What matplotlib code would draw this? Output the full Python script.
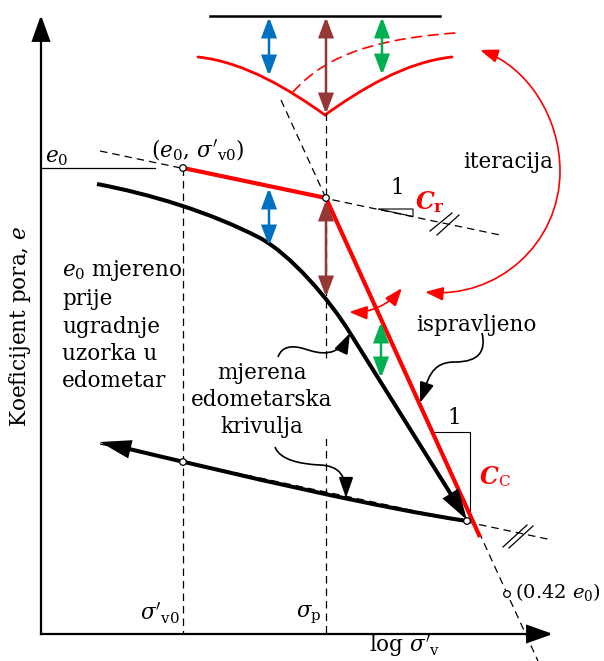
import numpy as np
import matplotlib.pyplot as plt
from matplotlib.patches import FancyArrowPatch, Circle, Polygon
from matplotlib.path import Path

plt.rcParams['font.family'] = 'DejaVu Serif'
plt.rcParams['mathtext.fontset'] = 'dejavuserif'

# everything is laid out on a 604 x 661 canvas (y grows downward)
W, H = 604, 661

# axes frame
origin = (41, 634)
y_axis_top = 15
x_axis_right = 553

# characteristic points of the construction
pt_e0 = (183, 168)      # (e0, sigma'v0)
pt_sp = (326, 198)      # sigma_p on the recompression line
pt_end = (467, 521)     # last loading step
pt_042 = (507, 594)     # 0.42 e0 on the Cc line
open_points = [pt_e0, pt_sp, (183, 462), pt_end, pt_042]

# construction lines
cr_dash = [(100, 151), (500, 235)]
cc_dash = [(281, 100), (538, 661)]
unload_dash = [(100, 444), (552, 540)]
e0_line = [(41, 168), (155, 168)]
vert_x = [183, 326]
vert_top = [168, 113]
corrected = [pt_e0, pt_sp, (480, 537)]

# measured oedometer curve (bezier control points) and unloading branch
measured_pts = [(97, 184), (150, 194), (210, 212), (260, 238),
                (290, 254), (330, 300), (350, 333), (467, 520)]
unload_pts = [(467, 521), (380, 508), (250, 478), (100, 442)]

# disturbance sketch at the top
ref_line = [(210, 16), (440, 16)]
v_left = [(198, 57), (245, 62), (290, 90), (325, 115)]
v_right = [(325, 115), (360, 90), (405, 62), (452, 57)]
v_dashed = [(293, 92), (320, 62), (360, 40), (455, 33)]

# double arrows: (x, y_top, y_bottom, colour)
blue, brown, green, red = '#0070C0', '#953735', '#00B050', '#FF0000'
top_arrows = [(269, 17, 76, blue), (326, 17, 114, brown), (382, 17, 75, green)]
low_arrows = [(269, 188, 246, blue), (326, 200, 297, brown), (381, 322, 378, green)]

# slope triangles
cr_tri = [(378, 209), (413, 209), (413, 216.5)]
cc_tri = [(433, 432), (470, 432), (470, 520)]

fig = plt.figure(figsize=(W / 100, H / 100), dpi=100)
ax = fig.add_axes([0, 0, 1, 1])
ax.set_xlim(0, W)
ax.set_ylim(H, 0)
ax.axis('off')

dash = (0, (6, 4))
fs = 15.5


def bez(pts):
    codes = [Path.MOVETO] + [Path.CURVE4] * (len(pts) - 1)
    return Path(pts, codes)


def arrow(path=None, a=None, b=None, style='-|>', color='black', lw=1.5,
          ms=20, hl=0.8, hw=0.3, cs=None, z=4):
    st = f"{style},head_length={hl},head_width={hw}"
    kw = dict(arrowstyle=st, color=color, lw=lw, mutation_scale=ms,
              zorder=z, joinstyle='miter', capstyle='butt')
    if path is not None:
        p = FancyArrowPatch(path=path, **kw)
    else:
        p = FancyArrowPatch(a, b, shrinkA=0, shrinkB=0,
                            connectionstyle=cs or 'arc3,rad=0', **kw)
    ax.add_patch(p)


# axes with arrow heads
ax.plot([origin[0], origin[0]], [origin[1], y_axis_top + 15], color='black', lw=1.6)
ax.plot([origin[0], x_axis_right - 15], [origin[1], origin[1]], color='black', lw=1.6)
arrow(a=(origin[0], y_axis_top + 20), b=(origin[0], y_axis_top), lw=1.6, ms=18, hl=0.9, hw=0.32)
arrow(a=(x_axis_right - 20, origin[1]), b=(x_axis_right, origin[1]), lw=1.6, ms=18, hl=0.9, hw=0.32)

# construction lines
for seg in (cr_dash, cc_dash, unload_dash):
    (x0, y0), (x1, y1) = seg
    ax.plot([x0, x1], [y0, y1], color='black', lw=0.9, ls=dash, zorder=2)
for x, yt in zip(vert_x, vert_top):
    ax.plot([x, x], [yt, origin[1]], color='black', lw=0.9, ls=dash, zorder=2)
ax.plot(*zip(*e0_line), color='black', lw=0.9)

# hash marks on the dashed lines
for (x0, y0, x1, y1) in [(430, 231, 452, 213), (437, 235, 459, 215),
                         (503, 547, 527, 525), (509, 548, 533, 526)]:
    ax.plot([x0, x1], [y0, y1], color='black', lw=0.9)

# slope triangles
ax.add_patch(Polygon(cr_tri, closed=True, fill=False, ec='black', lw=0.8))
ax.plot(*zip(*cc_tri), color='black', lw=0.8)
ax.text(397, 188, '1', fontsize=fs, ha='center', va='center')
ax.text(454, 418, '1', fontsize=fs, ha='center', va='center')

# corrected curve
ax.plot(*zip(*corrected), color=red, lw=3.0, solid_capstyle='butt', zorder=3)

# measured curve and unloading
mcodes = [Path.MOVETO] + [Path.CURVE4] * 6 + [Path.LINETO]
arrow(path=Path(measured_pts, mcodes), lw=2.9, ms=20, hl=0.8, hw=0.24, z=3)
arrow(path=bez(unload_pts), lw=2.9, ms=20, hl=0.8, hw=0.24, z=3)

# top sketch
ax.plot(*zip(*ref_line), color='black', lw=1.8)
for pts, ls in ((v_left, '-'), (v_right, '-'), (v_dashed, dash)):
    ax.add_patch(FancyArrowPatch(path=bez(pts), arrowstyle='-', color=red,
                                 lw=2.0 if ls == '-' else 1.2, ls=ls))

for x, y0, y1, c in top_arrows + low_arrows:
    arrow(a=(x, y0), b=(x, y1), style='<|-|>', color=c, lw=1.8, ms=15,
          hl=0.8, hw=0.3)

# iteration arcs
arc = [(480, 50), (529, 67), (560, 119), (560, 171),
       (560, 244), (497, 299), (425, 292)]
arrow(path=bez(arc), style='<|-|>', color=red, lw=1.2, ms=14, hl=0.8, hw=0.3)
arrow(a=(349, 312), b=(402, 288), style='<|-|>', color=red, lw=1.2, ms=14,
      hl=0.8, hw=0.3, cs='arc3,rad=0.25')

# leader arrows
lead1 = [(278, 357), (282, 346), (292, 345), (305, 349),
         (320, 354), (338, 358), (350, 333)]
lead2 = [(482, 333), (486, 350), (480, 362), (455, 362),
         (430, 362), (428, 380), (420, 403)]
lead3 = [(275, 447), (280, 460), (300, 464), (320, 465),
         (340, 466), (346, 476), (346, 498)]
for ld in (lead1, lead2, lead3):
    arrow(path=bez(ld), lw=1.2, ms=16, hl=0.8, hw=0.28, z=5)

# open points
for (px, py) in open_points:
    ax.add_patch(Circle((px, py), 3.3, fc='white', ec='black', lw=0.9, zorder=6))

# labels
ax.text(20, 326, r'Koeficijent pora, $e$', fontsize=fs, rotation=90,
        ha='center', va='center')
ax.text(45, 157, r'$e_0$', fontsize=fs, ha='left', va='center')
ax.text(198, 150, r"$(e_0,\,\sigma'_{\mathrm{v0}})$", fontsize=fs, ha='center', va='center')
ax.text(180, 613, r"$\sigma'_{\mathrm{v0}}$", fontsize=fs, ha='right', va='center')
ax.text(322, 615, r"$\sigma_{\mathrm{p}}$", fontsize=fs, ha='right', va='center')
ax.text(405, 646, r"$\log\,\sigma'_{\mathrm{v}}$", fontsize=fs, ha='center', va='center')
ax.text(515, 592, r"$(0.42\ e_0)$", fontsize=14, ha='left', va='center')
ax.text(508, 162, 'iteracija', fontsize=fs, ha='center', va='center')
ax.text(476, 325, 'ispravljeno', fontsize=fs, ha='center', va='center')
ax.text(62, 325, '$e_0$ mjereno\nprije\nugradnje\nuzorka u\nedometar',
        fontsize=fs, ha='left', va='center', linespacing=1.3)
ax.text(262, 400, 'mjerena\nedometarska\nkrivulja', fontsize=fs,
        ha='center', va='center', multialignment='center', linespacing=1.27,
        bbox=dict(fc='white', ec='none', pad=1), zorder=3)

# slope symbols
ax.text(416, 202, 'C', fontsize=17, color=red, style='italic', weight='bold',
        ha='left', va='center')
ax.text(434, 208, 'r', fontsize=12, color=red, weight='bold', ha='left', va='center')
ax.text(480, 477, 'C', fontsize=17, color=red, style='italic', weight='bold',
        ha='left', va='center')
ax.text(498, 482, 'C', fontsize=11, color=red, ha='left', va='center')

fig.savefig('out.png', dpi=100)
